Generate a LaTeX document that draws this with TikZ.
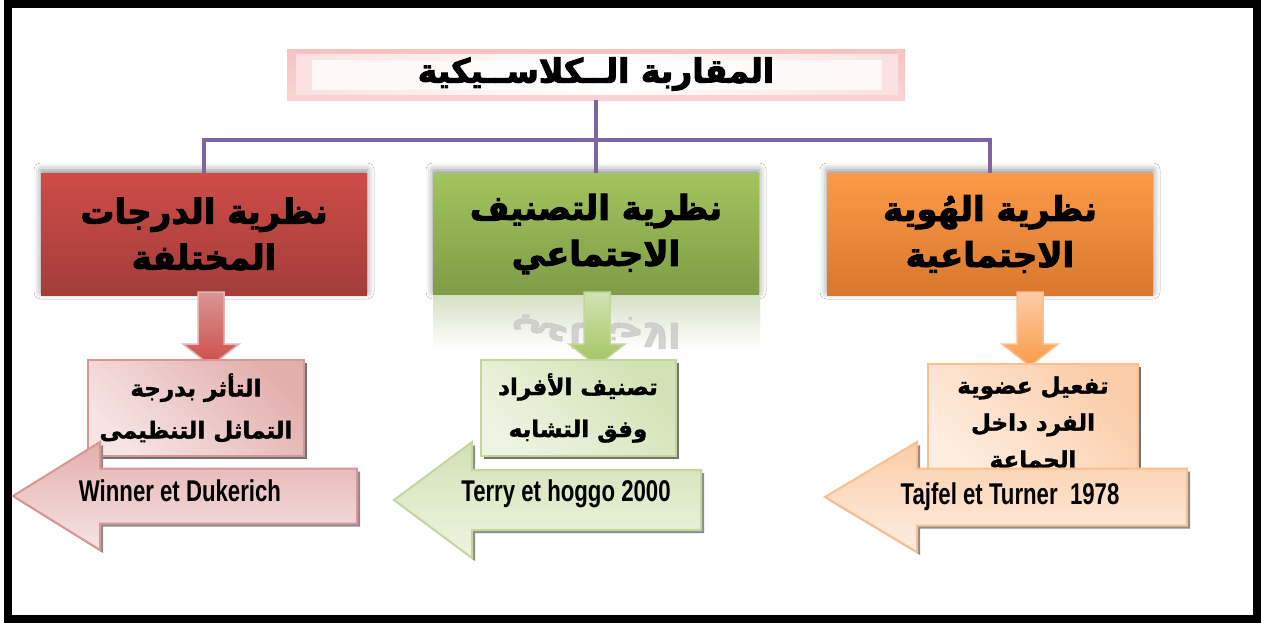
\documentclass[tikz,border=0pt]{standalone}
\usepackage{fontspec}
\setmainfont{Liberation Sans}
\newfontfamily\arabicfont[Script=Arabic, BoldFeatures={FakeBold=1.6}]{DejaVu Sans}
\newfontfamily\arabicheavy[Script=Arabic, BoldFeatures={FakeBold=3}]{DejaVu Sans}
\newfontfamily\narrowfont[FakeStretch=0.74]{Liberation Sans}
\TeXXeTstate=1
\usetikzlibrary{shadows,shadows.blur}

\definecolor{purpleline}{HTML}{8064A2}
\definecolor{redtop}{HTML}{CE4C48}
\definecolor{redbot}{HTML}{A33D3A}
\definecolor{greentop}{HTML}{A2C45E}
\definecolor{greenbot}{HTML}{7F9C46}
\definecolor{orangetop}{HTML}{FB9B47}
\definecolor{orangebot}{HTML}{D9772D}
\definecolor{redpale}{HTML}{F6E4E4}
\definecolor{redmid}{HTML}{E3AFAE}
\definecolor{redline}{HTML}{D99694}
\definecolor{greenpale}{HTML}{EEF4E2}
\definecolor{greenmid}{HTML}{D2E2B4}
\definecolor{greenline}{HTML}{C3D69B}
\definecolor{orangepale}{HTML}{FEEEE2}
\definecolor{orangemid}{HTML}{FBCDA8}
\definecolor{orangeline}{HTML}{FAC090}
\definecolor{titlepink}{HTML}{F7C2C2}

\newcommand\ar[1]{{\beginR #1\endR}}

% down-pointing block arrow, top centre at (#1,#2)
\newcommand\downblock[3]{%
  \path[#3, shift={(#1,#2)}] (-13,0) -- (13,0) -- (13,52) -- (28,52) -- (0,74)
    -- (-28,52) -- (-13,52) -- cycle;}
% left-pointing block arrow: tip x, centre y, head back x, right x, shaft half, head half
\newcommand\leftblock[7]{%
  \path[#7] (#1,#2) -- (#3,#2-#6) -- (#3,#2-#5) -- (#4,#2-#5) -- (#4,#2+#5)
    -- (#3,#2+#5) -- (#3,#2+#6) -- cycle;}

\tikzset{
  conn/.style={draw=purpleline, line width=4pt},
  bigbox/.style={minimum width=326pt, minimum height=122pt, inner sep=0pt,
    align=center, font=\arabicheavy\bfseries\fontsize{34}{46}\selectfont,
    blur shadow={shadow xshift=0pt, shadow yshift=3pt,
    shadow blur radius=7pt, shadow opacity=45}},
  subbox/.style={inner sep=0pt, line width=2pt, align=center,
    font=\arabicfont\bfseries\fontsize{23}{42}\selectfont,
    drop shadow={shadow xshift=3pt, shadow yshift=-3pt, fill=black!55, opacity=1}},
  reftext/.style={font=\narrowfont\bfseries\fontsize{30}{36}\selectfont},
  arrowshadow/.style={drop shadow={shadow xshift=3pt, shadow yshift=-3pt, fill=black!45, opacity=1}},
}

\begin{document}
\begin{tikzpicture}[x=1pt, y=-1pt]
\useasboundingbox (0,0) rectangle (1261,623);
\fill[white] (0,0) rectangle (1261,623);
% outer frame
\draw[line width=8pt, black] (8,4) rectangle (1257,619);

% title banner
\shade[top color=titlepink, bottom color=titlepink!70] (287,50) rectangle (905,101);
\shade[left color=titlepink!50, right color=titlepink!50, middle color=white] (296,55) rectangle (898,95);
\fill[white, opacity=0.75] (312,60) rectangle (882,90);
\node[minimum width=618pt, minimum height=51pt, inner sep=0pt,
  font=\arabicheavy\bfseries\fontsize{33}{40}\selectfont] (title) at (596,74)
  {\ar{المقاربة الــكلاســيكية}};

% the three theory boxes
\node[bigbox, top color=redtop, bottom color=redbot] (red) at (204,234)
  {\ar{نظرية الدرجات}\\\ar{المختلفة}};
\node[bigbox, top color=greentop, bottom color=greenbot] (green) at (596,234)
  {\ar{نظرية التصنيف}\\\ar{الاجتماعي}};
\node[bigbox, top color=orangetop, bottom color=orangebot] (orange) at (990,234)
  {\ar{نظرية الهُوية}\\\ar{الاجتماعية}};

% connectors
\coordinate (hub) at (596,140);
\draw[conn] (title.south) -- (green.north);
\draw[conn] (red.north) -- (red.north |- hub) -| (orange.north);

% mirrored reflection below the middle box
\begin{scope}
  \clip (433,295) rectangle (760,348);
  \shade[top color=greenbot!45, bottom color=white] (433,295) rectangle (760,348);
  \node[font=\arabicheavy\bfseries\fontsize{34}{46}\selectfont, text=black!30,
    yscale=-1, opacity=0.8] (mirror) at (596,332) {\ar{الاجتماعي}};
  \shade[top color=white, bottom color=white, opacity=0.3] (433,295) rectangle (760,348);
\end{scope}

% down block arrows
\downblock{211}{292}{top color=redline, bottom color=redtop, draw=redline!70, line width=1.5pt}
\downblock{597}{292}{top color=greenmid, bottom color=greentop, draw=greenline, line width=1.5pt}
\downblock{1030}{292}{top color=orangemid, bottom color=orangetop, draw=orangeline, line width=1.5pt}

% effect boxes
\node[subbox, draw=redline, minimum width=216pt, minimum height=96pt,
  shading=axis, left color=redpale, right color=redmid, shading angle=135] (redsub) at (196,408)
  {\ar{التأثر بدرجة}\\\ar{التماثل التنظيمى}};
\node[subbox, draw=greenline, minimum width=195pt, minimum height=96pt,
  shading=axis, left color=greenpale, right color=greenmid, shading angle=135] (greensub) at (578,408)
  {\ar{تصنيف الأفراد}\\\ar{وفق التشابه}};
\node[subbox, draw=orangeline, minimum width=210pt, minimum height=121pt,
  font=\arabicfont\bfseries\fontsize{23}{37}\selectfont,
  shading=axis, left color=orangepale, right color=orangemid, shading angle=135] (orangesub) at (1033,424)
  {\ar{تفعيل عضوية}\\\ar{الفرد داخل}\\\ar{الجماعة}};

% reference arrows
\leftblock{13}{496}{100}{357}{27.5}{54}{arrowshadow, draw=redline, line width=2pt, top color=redmid, bottom color=redpale}
\leftblock{394}{500}{472}{701}{30}{58}{arrowshadow, draw=greenline, line width=2pt, top color=greenmid, bottom color=greenpale}
\leftblock{825}{497}{917}{1187}{28.5}{55}{arrowshadow, draw=orangeline, line width=2pt, top color=orangemid, bottom color=orangepale}

\node[reftext] (redref) at (180,491) {Winner et Dukerich};
\node[reftext] (greenref) at (566,494) {Terry et hoggo 2000};
\node[reftext] (orangeref) at (1010,497) {Tajfel et Turner~~1978};
\end{tikzpicture}
\end{document}
